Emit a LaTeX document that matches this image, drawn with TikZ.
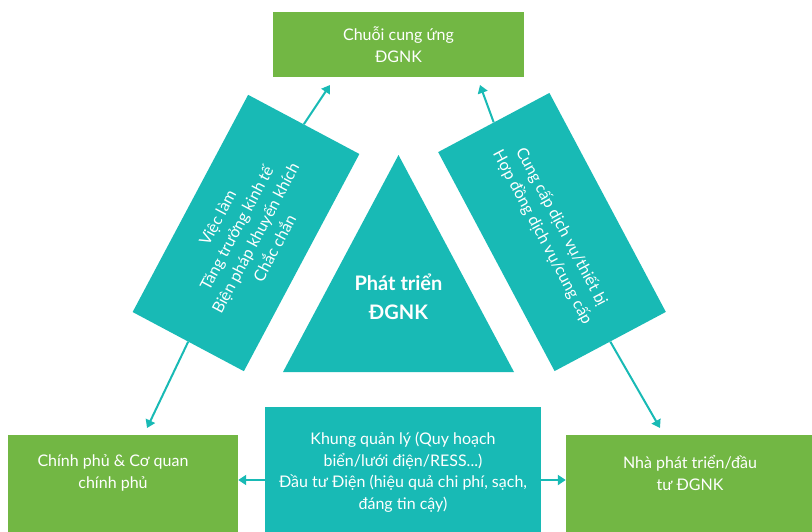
\documentclass[tikz,border=0pt]{standalone}
\usepackage{fontspec}
\setmainfont{Lato}
\usetikzlibrary{arrows.meta}
\definecolor{boxgreen}{RGB}{114,183,68}
\definecolor{boxteal}{RGB}{24,186,181}

\begin{document}
\begin{tikzpicture}[x=1pt,y=-1pt,
      font=\fontsize{16}{21.5}\selectfont,
      gbox/.style={rectangle, fill=boxgreen, text=white, align=center, inner sep=0pt},
      tbox/.style={rectangle, fill=boxteal, text=white, align=center, inner sep=0pt},
      wtext/.style={text=white, align=center, inner sep=0pt},
      link/.style={draw=boxteal, line width=2pt, -{Triangle[length=8pt,width=10pt]}}]
    \useasboundingbox (0,0) rectangle (812,531);
    % green boxes
    \node[gbox, minimum width=251pt, minimum height=65pt] (chain) at (398.5,44.5) {Chuỗi cung ứng\\ĐGNK};
    \node[gbox, minimum width=230pt, minimum height=100pt] (gov) at (123,485) {};
    \node[wtext] (govtext) at (113,473) {Chính phủ \& Cơ quan\\chính phủ};
    \node[gbox, minimum width=250pt, minimum height=100pt] (dev) at (691,485) {};
    \node[wtext] (devtext) at (690,473) {Nhà phát triển/đầu\\tư ĐGNK};
    % center
    \fill[boxteal] (283,372) -- (398.5,155) -- (514,372) -- cycle;
    \node[wtext, font=\bfseries\fontsize{20}{29}\selectfont] (core) at (398.5,297) {Phát triển\\ĐGNK};
    \node[tbox, minimum width=276pt, minimum height=130pt] (frame) at (403,472)
      {Khung quản lý (Quy hoạch\\biển/lưới điện/RESS...)\\Đầu tư Điện (hiệu quả chi phí, sạch,\\đáng tin cậy)};
    % tilted boxes
    \node[tbox, rotate=62, minimum width=246pt, minimum height=126pt,
          font=\fontsize{16}{21.5}\selectfont] (jobs) at (246,233)
      {Việc làm\\Tăng trưởng kinh tế\\Biện pháp khuyến khích\\Chắc chắn};
    \node[tbox, rotate=-62, minimum width=248pt, minimum height=126pt,
          font=\fontsize{16}{21.5}\selectfont] (supply) at (552,232)
      {Cung cấp dịch vụ/thiết bị\\Hợp đồng dịch vụ/cung cấp};
    \coordinate (jobstop) at (330,85);
    \coordinate (jobsbot) at (147,428);
    \coordinate (supplytop) at (480,85);
    \coordinate (supplybot) at (660,428);
    \draw[link] (jobs.east) -- (jobstop);
    \draw[link] (jobs.west) -- (jobsbot);
    \draw[link] (supply.west) -- (supplytop);
    \draw[link] (supply.east) -- (supplybot);
    \draw[link] (frame.west |- 0,480) -- (gov.east |- 0,480);
    \draw[link] (frame.east |- 0,480) -- (dev.west |- 0,480);
  \end{tikzpicture}
\end{document}
